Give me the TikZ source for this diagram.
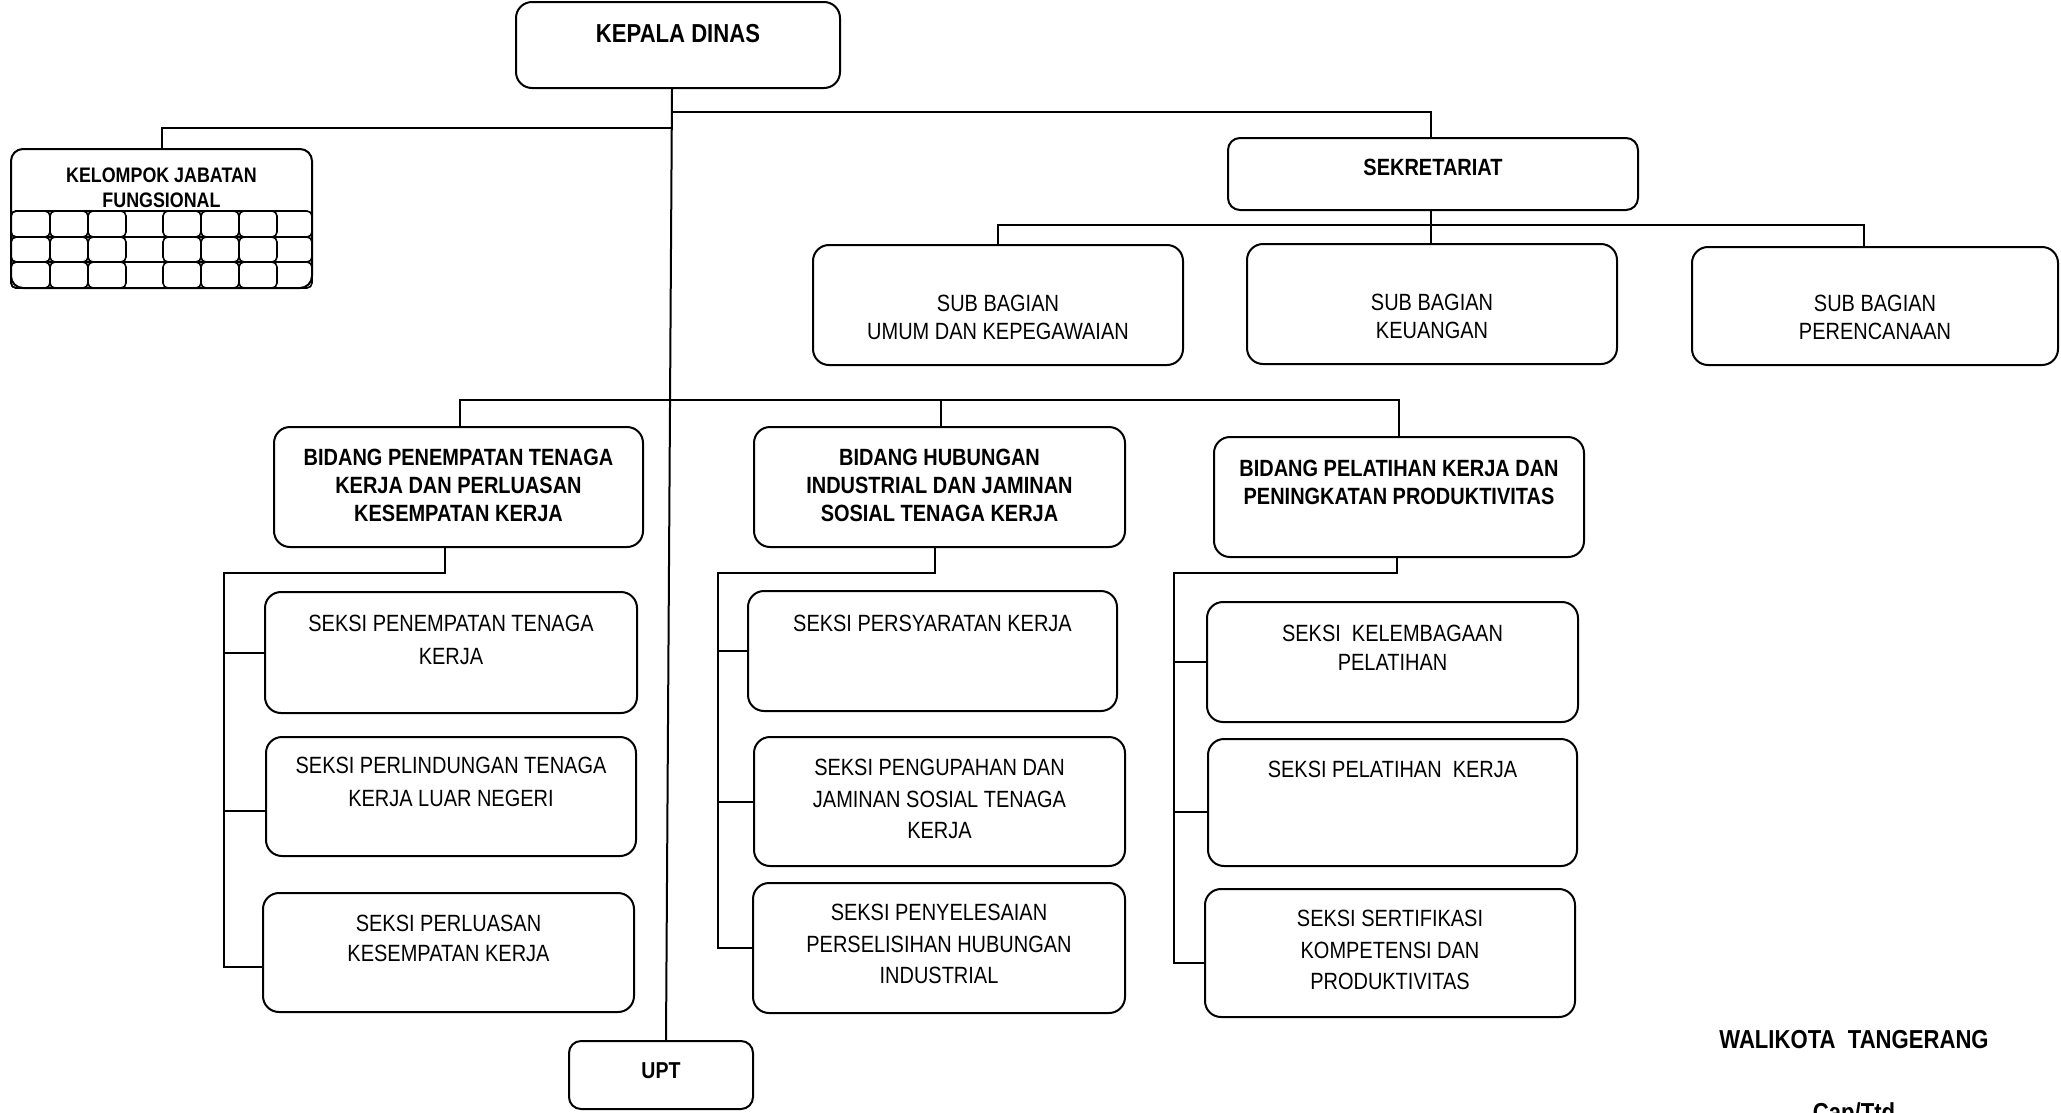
\documentclass[tikz,border=0pt]{standalone}
\usepackage{fontspec}
\newfontfamily\nar[FakeStretch=0.85]{Liberation Sans}
\begin{document}
\begin{tikzpicture}[x=1pt,y=-1pt,
  box/.style={draw, line width=2pt, rounded corners=16pt, inner sep=0pt},
  cell/.style={draw, line width=1.6pt, rounded corners=5pt},
  conn/.style={line width=2pt},
  lbl/.style={inner sep=0pt, align=center, font=\nar\fontsize{23.5}{#1}\selectfont},
  lbl/.default=31.5,
  blbl/.style 2 args={inner sep=0pt, align=center, font=\nar\bfseries\fontsize{#1}{#2}\selectfont}]
\fill[white] (0,0) rectangle (2061,1112);
\useasboundingbox (0,0) rectangle (2061,1112);

% ---------- boxes ----------
\node[box, minimum width=324pt, minimum height=86pt] (kd) at (678,45) {};
\node[box, rounded corners=12pt, minimum width=301pt, minimum height=139pt] (kjf) at (161.5,218.5) {};
\node[box, minimum width=410pt, minimum height=72pt, rounded corners=12pt] (sek) at (1433,174) {};
\node[box, minimum width=370pt, minimum height=120pt] (sb1) at (998,305) {};
\node[box, minimum width=370pt, minimum height=120pt] (sb2) at (1432,304) {};
\node[box, minimum width=366pt, minimum height=118pt] (sb3) at (1875,306) {};
\node[box, minimum width=369pt, minimum height=120pt] (b1) at (458.5,487) {};
\node[box, minimum width=371pt, minimum height=120pt] (b2) at (939.5,487) {};
\node[box, minimum width=370pt, minimum height=120pt] (b3) at (1399,497) {};
\node[box, minimum width=372pt, minimum height=121pt] (s1a) at (451,652.5) {};
\node[box, minimum width=370pt, minimum height=119pt] (s1b) at (451,796.5) {};
\node[box, minimum width=371pt, minimum height=119pt] (s1c) at (448.5,952.5) {};
\node[box, minimum width=369pt, minimum height=120pt] (s2a) at (932.5,651) {};
\node[box, minimum width=371pt, minimum height=129pt] (s2b) at (939.5,801.5) {};
\node[box, minimum width=372pt, minimum height=130pt] (s2c) at (939,948) {};
\node[box, minimum width=371pt, minimum height=120pt] (s3a) at (1392.5,662) {};
\node[box, minimum width=369pt, minimum height=127pt] (s3b) at (1392.5,802.5) {};
\node[box, minimum width=370pt, minimum height=128pt] (s3c) at (1390,953) {};
\node[box, rounded corners=12pt, minimum width=184pt, minimum height=68pt] (upt) at (661,1075) {};

% ---------- grid inside kelompok jabatan fungsional ----------
\foreach \ya/\yb in {211/237,237/262,262/288}{
  \draw[cell] (11,\ya) rectangle (312,\yb);
  \foreach \xa/\xb in {11/50,50/88,88/126,163/201,201/239,239/277}{
    \draw[cell] (\xa,\ya) rectangle (\xb,\yb);
  }
}

% ---------- connectors ----------
\draw[conn] ([xshift=-6pt]kd.south) -- ([xshift=5pt]upt.north);
\coordinate (lb) at (671,128);
\coordinate (rb) at (673,112);
\draw[conn] (kjf.north) |- (lb);
\draw[conn] (rb) -| ([xshift=-2pt]sek.north);
\draw[conn] ([xshift=-2pt]sek.south) -- ([xshift=-1pt]sb2.north);
\coordinate (sbbus) at (0,225);
\coordinate (sb3in) at ([xshift=-11pt]sb3.north);
\draw[conn] (sb1.north) |- (sbbus -| sb3in) -- (sb3in);

\coordinate (bbus) at (0,400);
\draw[conn] ([xshift=1.5pt]b1.north) |- (bbus -| b3.north) -- (b3.north);
\draw[conn] ([xshift=1.5pt]b2.north) -- ([xshift=1.5pt]b2.north |- bbus);

% column 1
\coordinate (c1) at (224,573);
\coordinate (s1bin) at ([yshift=-14.5pt]s1b.west);
\coordinate (s1cin) at ([yshift=-14.5pt]s1c.west);
\draw[conn] ([xshift=-13.5pt]b1.south) |- (c1) |- (s1cin);
\draw[conn] (c1 |- s1a.west) -- (s1a.west);
\draw[conn] (c1 |- s1bin) -- (s1bin);
% column 2
\coordinate (c2) at (718,573);
\draw[conn] ([xshift=-4.5pt]b2.south) |- (c2) |- (s2c.west);
\draw[conn] (c2 |- s2a.west) -- (s2a.west);
\draw[conn] (c2 |- s2b.west) -- (s2b.west);
% column 3
\coordinate (c3) at (1174,573);
\coordinate (s3bin) at ([yshift=-9.5pt]s3b.west);
\coordinate (s3cin) at ([yshift=-10pt]s3c.west);
\draw[conn] ([xshift=-2pt]b3.south) |- (c3) |- (s3cin);
\draw[conn] (c3 |- s3a.west) -- (s3a.west);
\draw[conn] (c3 |- s3bin) -- (s3bin);

% ---------- texts ----------
\node[blbl={26}{28}, anchor=base] (tkd) at (678,42) {KEPALA DINAS};
\node[blbl={21}{25}, anchor=north] (tkjf) at (161.5,168) {KELOMPOK JABATAN\\FUNGSIONAL};
\node[blbl={23.5}{28}, anchor=base] (tsek) at (1433,175) {SEKRETARIAT};
\node[lbl=28, anchor=north] (tsb1) at (998,295) {SUB BAGIAN\\UMUM DAN KEPEGAWAIAN};
\node[lbl=28, anchor=north] (tsb2) at (1432,294) {SUB BAGIAN\\KEUANGAN};
\node[lbl=28, anchor=north] (tsb3) at (1875,295) {SUB BAGIAN\\PERENCANAAN};
\node[blbl={23.5}{28}, anchor=north] (tb1) at (458.5,449) {BIDANG PENEMPATAN TENAGA\\KERJA DAN PERLUASAN\\KESEMPATAN KERJA};
\node[blbl={23.5}{28}, anchor=north] (tb2) at (939.5,449) {BIDANG HUBUNGAN\\INDUSTRIAL DAN JAMINAN\\SOSIAL TENAGA KERJA};
\node[blbl={23.5}{28}, anchor=north] (tb3) at (1399,460) {BIDANG PELATIHAN KERJA DAN\\PENINGKATAN PRODUKTIVITAS};
\node[lbl=33, anchor=north] (ts1a) at (451,615) {SEKSI PENEMPATAN TENAGA\\KERJA};
\node[lbl=33, anchor=north] (ts1b) at (451,757) {SEKSI PERLINDUNGAN TENAGA\\KERJA LUAR NEGERI};
\node[lbl=30, anchor=north] (ts1c) at (448.5,915) {SEKSI PERLUASAN\\KESEMPATAN KERJA};
\node[lbl, anchor=base] (ts2a) at (932.5,631) {SEKSI PERSYARATAN KERJA};
\node[lbl=31.5, anchor=north] (ts2b) at (939.5,759) {SEKSI PENGUPAHAN DAN\\JAMINAN SOSIAL TENAGA\\KERJA};
\node[lbl=31.5, anchor=north] (ts2c) at (939,904) {SEKSI PENYELESAIAN\\PERSELISIHAN HUBUNGAN\\INDUSTRIAL};
\node[lbl=29, anchor=north] (ts3a) at (1392.5,625) {SEKSI\ \ KELEMBAGAAN\\PELATIHAN};
\node[lbl, anchor=base] (ts3b) at (1392.5,777) {SEKSI PELATIHAN\ \ KERJA};
\node[lbl=31.5, anchor=north] (ts3c) at (1390,910) {SEKSI SERTIFIKASI\\KOMPETENSI DAN\\PRODUKTIVITAS};
\node[blbl={23}{28}, anchor=base] (tupt) at (661,1078) {UPT};
\node[blbl={26}{30}, anchor=base] (twk) at (1854,1048) {WALIKOTA~~TANGERANG};
\node[blbl={26}{30}, anchor=base] (tcap) at (1854,1121) {Cap/Ttd};
\end{tikzpicture}
\end{document}
